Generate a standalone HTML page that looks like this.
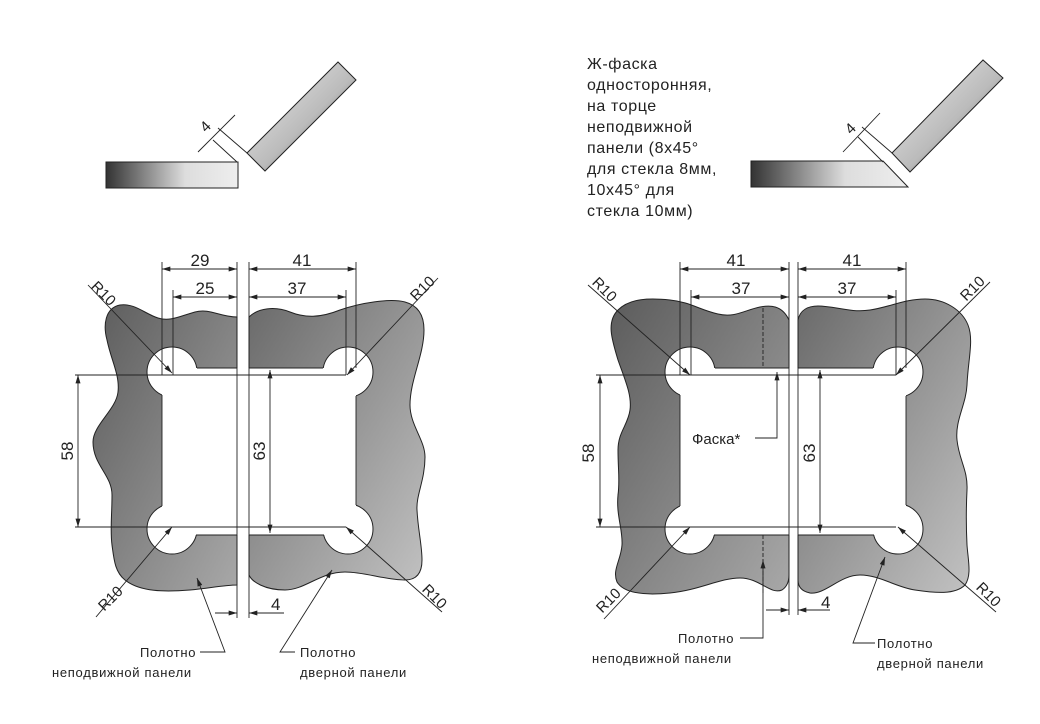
<!DOCTYPE html>
<html><head><meta charset="utf-8"><style>
html,body{margin:0;padding:0;background:#fff;}
svg{display:block}
.t{font-family:"Liberation Sans",sans-serif;fill:#222;}
.d{stroke:#222;stroke-width:0.9;fill:none}
</style></head><body>
<svg width="1040" height="724" viewBox="0 0 1040 724" xmlns="http://www.w3.org/2000/svg">
<defs>
<linearGradient id="g1" x1="0" y1="0" x2="1" y2="1"><stop offset="0" stop-color="#5c5c5c"/><stop offset="1" stop-color="#a8a8a8"/></linearGradient>
<linearGradient id="g2" x1="0" y1="0" x2="1" y2="1"><stop offset="0" stop-color="#6a6a6a"/><stop offset="1" stop-color="#c2c2c2"/></linearGradient>
<linearGradient id="gh" x1="0" y1="0" x2="1" y2="0"><stop offset="0" stop-color="#333"/><stop offset="0.6" stop-color="#ddd"/><stop offset="1" stop-color="#eee"/></linearGradient>
<linearGradient id="ga" x1="0" y1="0" x2="1" y2="1"><stop offset="0" stop-color="#eee"/><stop offset="0.55" stop-color="#bbb"/><stop offset="1" stop-color="#444"/></linearGradient>
<marker id="a" viewBox="0 0 10 6" refX="10" refY="3" markerWidth="9" markerHeight="5" orient="auto-start-reverse" markerUnits="userSpaceOnUse"><path d="M0,0 L10,3 L0,6 Z" fill="#222"/></marker>
</defs>

<!-- ===== top small drawings ===== -->
<polygon points="106,162 238,162 238,188 106,188" fill="url(#gh)" stroke="#222" stroke-width="1"/>
<polygon points="247,153 338,62 356,80 265,171" fill="url(#ga)" stroke="#222" stroke-width="1"/>
<line x1="237" y1="162" x2="213" y2="140" class="d"/>
<line x1="247" y1="153" x2="218" y2="128" class="d"/>
<line x1="198" y1="152" x2="235" y2="115" class="d"/>
<text class="t" font-size="15" transform="translate(206,133) rotate(-45)">4</text>

<polygon points="751,161 883,161 908,187 751,187" fill="url(#gh)" stroke="#222" stroke-width="1"/>
<polygon points="892,153 983,60 1003,78 910,172" fill="url(#ga)" stroke="#222" stroke-width="1"/>
<line x1="883" y1="162" x2="858" y2="137" class="d"/>
<line x1="892" y1="153" x2="862" y2="127" class="d"/>
<line x1="843" y1="152" x2="880" y2="113" class="d"/>
<text class="t" font-size="15" transform="translate(851,135) rotate(-45)">4</text>

<g class="t" font-size="16" letter-spacing="0.6">
<text x="587" y="69">Ж-фаска</text>
<text x="587" y="90">односторонняя,</text>
<text x="587" y="111">на торце</text>
<text x="587" y="132">неподвижной</text>
<text x="587" y="153">панели (8х45°</text>
<text x="587" y="174">для стекла 8мм,</text>
<text x="587" y="195">10х45° для</text>
<text x="587" y="216">стекла 10мм)</text>
</g>

<!-- ===== left figure ===== -->
<path d="M237,317 C220,317 210,308 195,312 C180,316 170,322 158,318 C145,314 135,303 120,305 C105,308 103,325 107,340 C111,360 120,375 118,392 C116,410 93,425 93,442 C93,465 112,475 112,495 C112,515 110,530 112,545 C114,560 115,572 125,580 C140,592 165,592 190,590 C210,588 225,585 237,585 Z" fill="url(#g1)" stroke="#222" stroke-width="1"/>
<path d="M249,317 C258,308 275,306 290,312 C305,318 320,318 340,310 C360,303 390,298 405,302 C420,306 424,318 424,330 C424,355 410,380 410,405 C410,425 425,440 425,457 C425,480 416,495 417,510 C418,530 422,545 422,560 C422,575 415,580 405,580 C385,580 365,572 345,572 C320,572 305,590 285,590 C265,590 252,582 249,575 Z" fill="url(#g2)" stroke="#222" stroke-width="1"/>
<g fill="#fff" stroke="#222" stroke-width="1">
<circle cx="172" cy="372" r="25"/><circle cx="172" cy="529" r="25"/>
<circle cx="348" cy="372" r="25"/><circle cx="348" cy="529" r="25"/>
</g>
<rect x="162" y="368" width="194" height="167" fill="#fff"/>
<g class="d" stroke-width="1">
<line x1="197" y1="368" x2="237" y2="368"/><line x1="196" y1="535" x2="237" y2="535"/>
<line x1="162" y1="395" x2="162" y2="506"/>
<line x1="249" y1="368" x2="323" y2="368"/><line x1="249" y1="535" x2="324" y2="535"/>
<line x1="356" y1="396" x2="356" y2="505"/>
</g>
<g class="d">
<line x1="162" y1="262" x2="162" y2="375"/><line x1="173" y1="290" x2="173" y2="375"/>
<line x1="237" y1="262" x2="237" y2="618"/><line x1="249" y1="262" x2="249" y2="618"/>
<line x1="356" y1="262" x2="356" y2="368"/><line x1="346" y1="290" x2="346" y2="375"/>
<line x1="162" y1="269" x2="237" y2="269" marker-start="url(#a)" marker-end="url(#a)"/>
<line x1="173" y1="297" x2="237" y2="297" marker-start="url(#a)" marker-end="url(#a)"/>
<line x1="249" y1="269" x2="356" y2="269" marker-start="url(#a)" marker-end="url(#a)"/>
<line x1="249" y1="297" x2="346" y2="297" marker-start="url(#a)" marker-end="url(#a)"/>
<line x1="75" y1="375" x2="346" y2="375"/><line x1="75" y1="527" x2="346" y2="527"/>
<line x1="78" y1="375" x2="78" y2="527" marker-start="url(#a)" marker-end="url(#a)"/>
<line x1="270" y1="370" x2="270" y2="533" marker-start="url(#a)" marker-end="url(#a)"/>
<line x1="88" y1="285" x2="172" y2="373" marker-end="url(#a)"/>
<line x1="438" y1="278" x2="347" y2="375" marker-end="url(#a)"/>
<line x1="96" y1="617" x2="172" y2="527" marker-end="url(#a)"/>
<line x1="442" y1="612" x2="346" y2="527" marker-end="url(#a)"/>
<line x1="215" y1="613" x2="237" y2="613" marker-end="url(#a)"/>
<line x1="284" y1="613" x2="249" y2="613" marker-end="url(#a)"/>
<polyline points="200,652 225,652 197,578" marker-end="url(#a)"/>
<polyline points="295,652 280,652 332,570" marker-end="url(#a)"/>
</g>
<g class="t" font-size="17">
<text x="200" y="266" text-anchor="middle">29</text>
<text x="205" y="294" text-anchor="middle">25</text>
<text x="302" y="266" text-anchor="middle">41</text>
<text x="297" y="294" text-anchor="middle">37</text>
<text transform="translate(73,451) rotate(-90)" text-anchor="middle">58</text>
<text transform="translate(265,451) rotate(-90)" text-anchor="middle">63</text>
<text x="271" y="610">4</text>
<text font-size="15" transform="translate(100,297) rotate(45)" text-anchor="middle">R10</text>
<text font-size="15" transform="translate(426,292) rotate(-45)" text-anchor="middle">R10</text>
<text font-size="15" transform="translate(114,602) rotate(-45)" text-anchor="middle">R10</text>
<text font-size="15" transform="translate(431,600) rotate(45)" text-anchor="middle">R10</text>
</g>
<g class="t" font-size="13" letter-spacing="0.7">
<text x="140" y="657">Полотно</text>
<text x="52" y="677">неподвижной панели</text>
<text x="300" y="657">Полотно</text>
<text x="300" y="677">дверной панели</text>
</g>

<!-- ===== right figure ===== -->
<path d="M789,320 C782,305 770,305 760,307 C745,310 735,318 718,314 C700,310 690,302 670,300 C650,298 630,298 618,310 C606,322 612,340 618,360 C625,380 632,395 630,410 C628,425 618,432 618,450 C618,470 620,480 618,495 C616,515 623,530 622,545 C621,560 612,570 617,582 C625,595 650,595 670,593 C700,590 720,578 740,578 C760,578 770,595 782,590 C788,586 789,580 789,575 Z" fill="url(#g1)" stroke="#222" stroke-width="1"/>
<path d="M798,320 C800,310 808,306 818,306 C835,306 850,313 870,310 C890,307 905,299 925,299 C945,299 962,310 968,325 C974,340 968,360 967,385 C966,405 955,420 957,440 C959,460 968,470 967,490 C966,510 966,525 967,545 C968,560 972,575 965,585 C955,595 935,593 915,590 C895,587 880,575 860,575 C840,575 825,595 810,593 C800,591 798,585 798,580 Z" fill="url(#g2)" stroke="#222" stroke-width="1"/>
<g fill="#fff" stroke="#222" stroke-width="1">
<circle cx="690" cy="372" r="25"/><circle cx="690" cy="529" r="25"/>
<circle cx="898" cy="372" r="25"/><circle cx="898" cy="529" r="25"/>
</g>
<rect x="680" y="368" width="226" height="167" fill="#fff"/>
<g class="d" stroke-width="1">
<line x1="715" y1="368" x2="789" y2="368"/><line x1="714" y1="535" x2="789" y2="535"/>
<line x1="680" y1="395" x2="680" y2="506"/>
<line x1="798" y1="368" x2="873" y2="368"/><line x1="798" y1="535" x2="874" y2="535"/>
<line x1="906" y1="396" x2="906" y2="505"/>
</g>
<g class="d">
<line x1="763" y1="308" x2="763" y2="368" stroke-dasharray="4,2"/>
<line x1="763" y1="535" x2="763" y2="593" stroke-dasharray="4,2"/>
<line x1="680" y1="262" x2="680" y2="375"/><line x1="691" y1="290" x2="691" y2="375"/>
<line x1="789" y1="262" x2="789" y2="615"/><line x1="798" y1="262" x2="798" y2="615"/>
<line x1="906" y1="262" x2="906" y2="368"/><line x1="896" y1="290" x2="896" y2="375"/>
<line x1="680" y1="269" x2="789" y2="269" marker-start="url(#a)" marker-end="url(#a)"/>
<line x1="691" y1="297" x2="789" y2="297" marker-start="url(#a)" marker-end="url(#a)"/>
<line x1="798" y1="269" x2="906" y2="269" marker-start="url(#a)" marker-end="url(#a)"/>
<line x1="798" y1="297" x2="896" y2="297" marker-start="url(#a)" marker-end="url(#a)"/>
<line x1="596" y1="375" x2="896" y2="375"/><line x1="596" y1="527" x2="896" y2="527"/>
<line x1="600" y1="375" x2="600" y2="527" marker-start="url(#a)" marker-end="url(#a)"/>
<line x1="820" y1="370" x2="820" y2="533" marker-start="url(#a)" marker-end="url(#a)"/>
<polyline points="755,438 777,438 777,372" marker-end="url(#a)"/>
<polyline points="740,638 763,638 763,560" marker-end="url(#a)"/>
<polyline points="875,643 853,643 885,557" marker-end="url(#a)"/>
<line x1="588" y1="285" x2="690" y2="375" marker-end="url(#a)"/>
<line x1="990" y1="282" x2="896" y2="375" marker-end="url(#a)"/>
<line x1="604" y1="619" x2="690" y2="527" marker-end="url(#a)"/>
<line x1="996" y1="612" x2="898" y2="527" marker-end="url(#a)"/>
<line x1="766" y1="610" x2="789" y2="610" marker-end="url(#a)"/>
<line x1="830" y1="610" x2="798" y2="610" marker-end="url(#a)"/>
</g>
<g class="t" font-size="17">
<text x="736" y="266" text-anchor="middle">41</text>
<text x="741" y="294" text-anchor="middle">37</text>
<text x="852" y="266" text-anchor="middle">41</text>
<text x="847" y="294" text-anchor="middle">37</text>
<text transform="translate(594,453) rotate(-90)" text-anchor="middle">58</text>
<text transform="translate(815,453) rotate(-90)" text-anchor="middle">63</text>
<text x="821" y="608">4</text>
<text x="692" y="444" font-size="15">Фаска*</text>
<text font-size="15" transform="translate(601,293) rotate(45)" text-anchor="middle">R10</text>
<text font-size="15" transform="translate(976,292) rotate(-45)" text-anchor="middle">R10</text>
<text font-size="15" transform="translate(612,604) rotate(-45)" text-anchor="middle">R10</text>
<text font-size="15" transform="translate(985,598) rotate(45)" text-anchor="middle">R10</text>
</g>
<g class="t" font-size="13" letter-spacing="0.7">
<text x="678" y="643">Полотно</text>
<text x="592" y="663">неподвижной панели</text>
<text x="877" y="648">Полотно</text>
<text x="877" y="668">дверной панели</text>
</g>
</svg>
</body></html>
